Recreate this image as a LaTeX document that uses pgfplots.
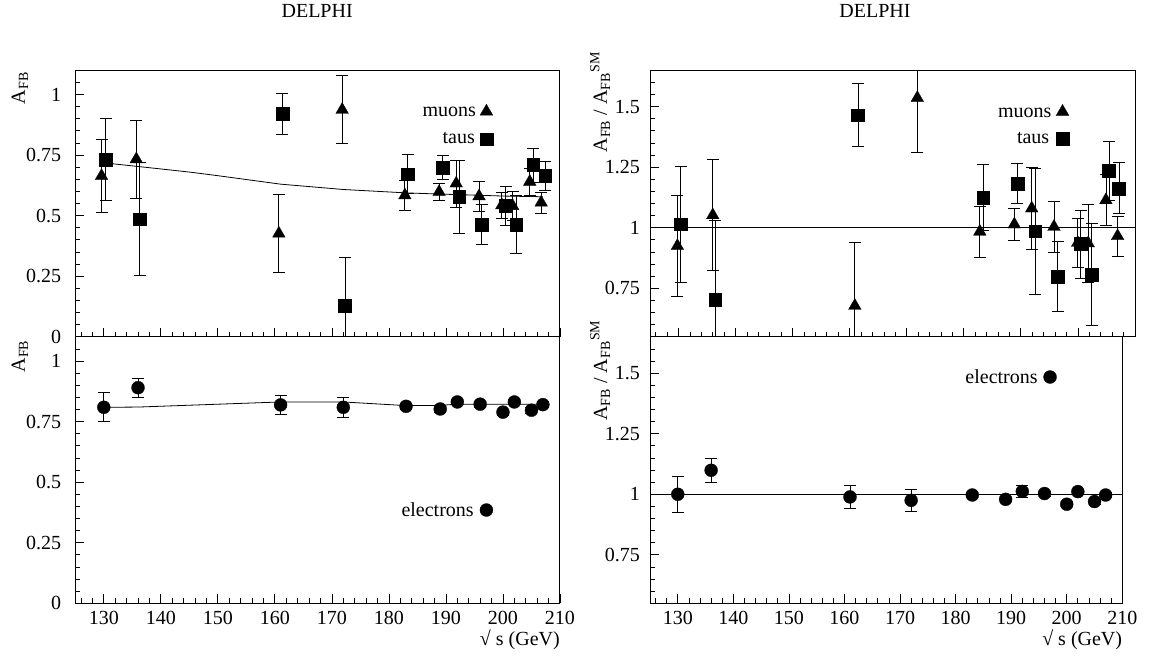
\documentclass[border=0pt]{standalone}
\usepackage{fontspec}
\setmainfont{Liberation Serif}
\usepackage{pgfplots}
\pgfplotsset{compat=1.18}
\usepackage{pgfplotstable}

\newcommand{\bigfont}{\fontsize{20}{24}\selectfont}

% ---- top-left: A_FB muons
\pgfplotstableread{
x y ey
129.6 0.664 0.150
135.7 0.733 0.160
160.7 0.426 0.160
171.8 0.937 0.140
182.8 0.584 0.063
188.8 0.598 0.037
191.8 0.633 0.097
195.8 0.580 0.062
199.8 0.543 0.055
201.7 0.540 0.060
204.7 0.640 0.055
206.7 0.554 0.043
}\muA
% ---- top-left: A_FB taus
\pgfplotstableread{
x y ey
130.3 0.732 0.170
136.3 0.486 0.232
161.3 0.920 0.083
172.3 0.128 0.200
183.3 0.671 0.080
189.4 0.699 0.050
192.3 0.577 0.150
196.3 0.464 0.083
200.5 0.540 0.080
202.3 0.463 0.120
205.3 0.709 0.070
207.4 0.664 0.061
}\tauA
% ---- SM prediction muons/taus
\pgfplotstableread{
x y
130 0.718
136 0.703
145 0.680
150 0.665
161 0.630
172 0.608
183 0.594
189 0.589
192 0.587
196 0.584
200 0.581
202 0.580
205 0.579
207 0.578
}\smA
% ---- bottom-left: A_FB electrons
\pgfplotstableread{
x y ey
130 0.809 0.060
136 0.890 0.040
161 0.819 0.040
172 0.809 0.040
183 0.813 0.012
189 0.802 0.012
192 0.831 0.012
196 0.822 0.012
200 0.789 0.012
202 0.831 0.012
205 0.797 0.012
207 0.820 0.012
}\elA
\pgfplotstableread{
x y
130 0.809
136 0.810
161 0.831
172 0.831
183 0.816
189 0.817
192 0.822
196 0.822
200 0.822
202 0.822
205 0.822
207 0.822
}\smE
% ---- top-right: ratio muons
\pgfplotstableread{
x y ey
129.8 0.925 0.210
136.0 1.052 0.230
160.9 0.678 0.260
171.85 1.536 0.225
182.8 0.984 0.106
188.85 1.014 0.066
191.9 1.080 0.170
195.8 1.004 0.105
199.95 0.938 0.100
201.8 0.936 0.160
204.9 1.114 0.106
206.95 0.966 0.083
}\muR
% ---- top-right: ratio taus
\pgfplotstableread{
x y ey
130.4 1.015 0.240
136.4 0.702 0.330
161.45 1.465 0.130
183.4 1.125 0.135
189.4 1.183 0.083
192.5 0.986 0.260
196.45 0.798 0.145
200.5 0.933 0.140
202.4 0.808 0.210
205.45 1.235 0.120
207.2 1.163 0.105
}\tauR
% ---- bottom-right: ratio electrons
\pgfplotstableread{
x y ey
130 1.000 0.074
136 1.099 0.050
161 0.989 0.048
172 0.975 0.047
183 0.997 0.010
189 0.979 0.010
192 1.012 0.025
196 1.003 0.010
200 0.959 0.010
202 1.011 0.010
205 0.970 0.010
207 0.997 0.010
}\elR

\tikzset{leg/.style={anchor=base east, inner sep=0pt, font=\bigfont}}

\pgfplotsset{
  delphi/.style={
    scale only axis,
    height=266.5pt,
    xmin=125, xmax=210,
    xtick={130,140,150,160,170,180,190,200,210},
    minor xtick={126,128,...,210},
    tick pos=left,
    tick align=inside,
    major tick length=9pt,
    minor tick length=5pt,
    every tick/.append style={black, line width=0.8pt},
    axis line style={line width=1pt},
    font=\bigfont,
    /pgf/number format/assume math mode=true,
    tick label style={font=\bigfont},
    label style={font=\bigfont},
    xticklabel style={inner sep=0pt, anchor=north, yshift=-8pt},
    ylabel style={inner sep=0pt, anchor=base east},
    xlabel style={inner sep=0pt, anchor=base east, at={(axis description cs:1,-0.159)}},
    title style={inner sep=0pt, anchor=base, font=\bigfont},
  },
  afb/.style={ymin=0, ymax=1.1, ytick={0,0.25,0.5,0.75,1},
    minor ytick={0.05,0.1,...,1.1},
    yticklabel style={inner sep=0pt, anchor=east, xshift=-14pt}},
  ratio/.style={ymin=0.55, ymax=1.65, ytick={0.75,1,1.25,1.5},
    minor ytick={0.55,0.6,...,1.65},
    yticklabel style={inner sep=0pt, anchor=east, xshift=-10pt}},
  errb/.style={error bars/.cd, y dir=both, y explicit,
    error bar style={line width=0.8pt, black},
    error mark options={rotate=90, mark size=6pt, line width=0.8pt, black}},
  muon/.style={only marks, mark=triangle*, mark size=7.3pt,
    mark options={fill=black, draw=black, line width=0.3pt}},
  tau/.style={only marks, mark=square*, mark size=6.4pt,
    mark options={fill=black, draw=black, line width=0.3pt}},
  elec/.style={only marks, mark=*, mark size=6.5pt,
    mark options={fill=black, draw=black, line width=0.3pt}},
}

\begin{document}
\bigfont
\begin{tikzpicture}[font=\bigfont]
\useasboundingbox (0pt,0pt) rectangle (1157pt,656pt);

% ================= top-left =================
\begin{axis}[delphi, afb, width=484.7pt,
  at={(75.3pt,319.2pt)}, anchor=south west,
  xticklabels={},
  ylabel={A\textsubscript{FB}},
  ylabel style={at={(axis description cs:-0.1038,0.994)}},
  title={DELPHI},
  title style={at={(axis description cs:0.499,1.174)}},
]
\addplot[black, line width=0.8pt] table[x=x,y=y] {\smA};
\addplot[muon, errb] table[x=x,y=y,y error=ey] {\muA};
\addplot[tau, errb] table[x=x,y=y,y error=ey] {\tauA};
\addplot[muon] coordinates {(197.1,0.930)};
\addplot[tau] coordinates {(197.1,0.816)};
\node[leg] at (axis cs:195.3,0.909) {muons};
\node[leg] at (axis cs:195.1,0.799) {taus};
\end{axis}

% ================= bottom-left =================
\begin{axis}[delphi, afb, width=484.7pt,
  at={(75.3pt,52.7pt)}, anchor=south west,
  ylabel={A\textsubscript{FB}},
  ylabel style={at={(axis description cs:-0.1038,0.988)}},
  xlabel={√ s (GeV)},
]
\addplot[black, line width=0.8pt] table[x=x,y=y] {\smE};
\addplot[elec, errb] table[x=x,y=y,y error=ey] {\elA};
\addplot[elec] coordinates {(197.1,0.385)};
\node[leg] at (axis cs:194.9,0.357) {electrons};
\end{axis}

% ================= top-right =================
\begin{axis}[delphi, ratio, width=485pt,
  at={(650pt,319.2pt)}, anchor=south west,
  xticklabels={},
  ylabel={A\textsubscript{FB} / A\textsubscript{FB}\textsuperscript{SM}},
  ylabel style={at={(axis description cs:-0.0887,1.070)}},
  title={DELPHI},
  title style={at={(axis description cs:0.464,1.174)}},
]
\addplot[black, line width=0.8pt] coordinates {(125,1) (210,1)};
\addplot[muon, errb] table[x=x,y=y,y error=ey] {\muR};
\addplot[tau, errb] table[x=x,y=y,y error=ey] {\tauR};
\addplot[muon] coordinates {(197.3,1.479)};
\addplot[tau] coordinates {(197.3,1.369)};
\node[leg] at (axis cs:195.4,1.455) {muons};
\node[leg] at (axis cs:195.0,1.348) {taus};
\end{axis}

% ================= bottom-right =================
\begin{axis}[delphi, ratio, width=472.3pt,
  at={(650pt,52.7pt)}, anchor=south west,
  ylabel={A\textsubscript{FB} / A\textsubscript{FB}\textsuperscript{SM}},
  ylabel style={at={(axis description cs:-0.091,1.063)}},
  xlabel={√ s (GeV)},
]
\addplot[black, line width=0.8pt] coordinates {(125,1) (210,1)};
\addplot[elec, errb] table[x=x,y=y,y error=ey] {\elR};
\addplot[elec] coordinates {(197.0,1.484)};
\node[leg] at (axis cs:194.8,1.457) {electrons};
\end{axis}
\end{tikzpicture}
\end{document}
